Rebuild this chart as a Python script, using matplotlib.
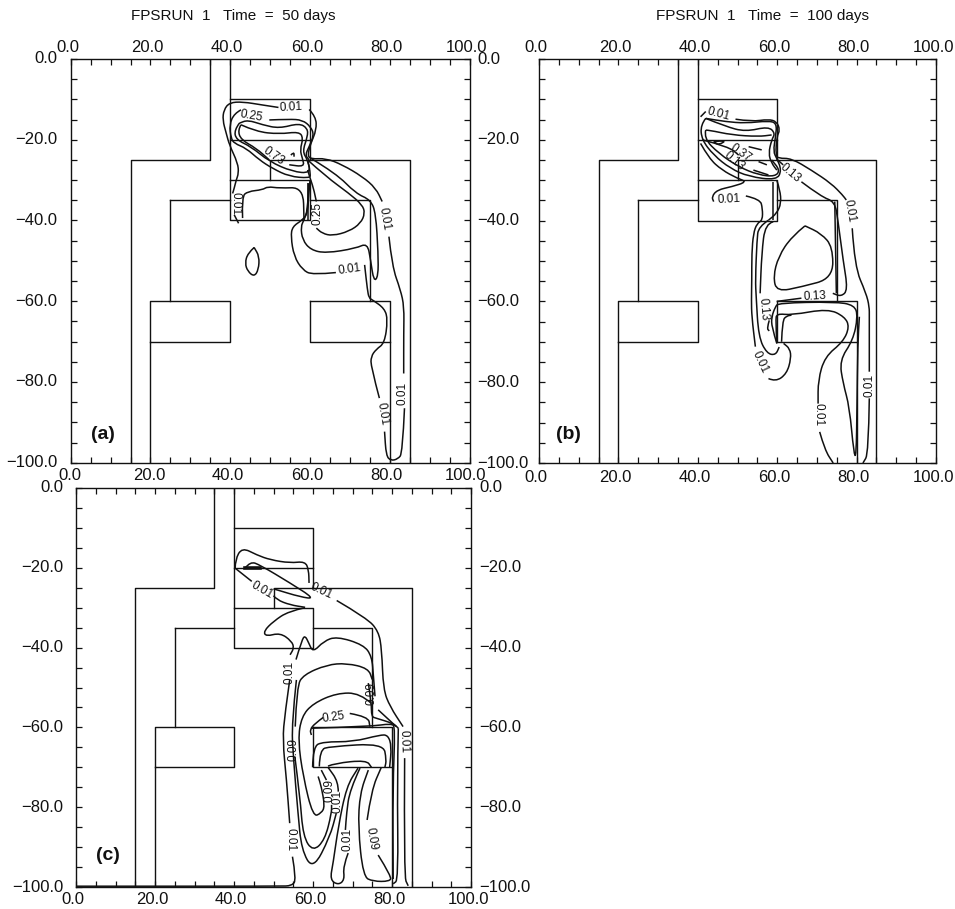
import matplotlib
matplotlib.use('Agg')
import matplotlib.pyplot as plt
from matplotlib.path import Path
from matplotlib.patches import PathPatch

W = 955
H = 909
plt.rcParams['font.family'] = ['Liberation Sans', 'DejaVu Sans']

x_ticks = [0, 20, 40, 60, 80, 100]
y_ticks = [0, -20, -40, -60, -80, -100]
minor_step = 5

# reactor outline, same in all three panels
outline = [
    [(35, 0), (35, -25), (15, -25), (15, -100)],
    [(40, 0), (40, -40), (60, -40), (60, -30), (40, -30)],
    [(40, -10), (60, -10), (60, -25), (85, -25), (85, -100)],
    [(40, -20), (60, -20)],
    [(50, -30), (50, -25), (60, -25)],
    [(25, -35), (40, -35)],
    [(25, -35), (25, -60)],
    [(20, -100), (20, -60), (40, -60), (40, -70), (20, -70)],
    [(60, -35), (75, -35), (75, -60)],
    [(60, -60), (80, -60), (80, -100)],
    [(60, -60), (60, -70), (80, -70)],
]

# panel (a) contours
a_lines = [
    [(52.1, -12.0), (48.1, -11.4), (43.1, -10.6), (39.8, -10.8), (38.4, -12.6), (38.1, -15.1), (39.0, -18.4),
     (39.8, -21.3), (41.9, -25.8), (42.1, -28.3), (41.5, -30.0), (41.0, -32.0), (40.6, -33.3)],
    [(41.0, -38.6), (42.1, -40.7)],
    [(59.8, -12.5), (61.5, -14.3), (61.6, -17.6), (60.2, -20.9), (59.4, -23.8), (60.2, -24.8), (64.0, -24.6),
     (68.1, -26.2), (73.1, -29.1), (76.5, -32.0), (78.1, -35.3)],
    [(79.8, -44.0), (80.6, -51.4), (82.7, -57.2), (83.6, -61.3), (83.5, -68.0), (83.5, -77.9)],
    [(83.7, -86.5), (83.2, -97.7), (82.0, -99.1), (80.3, -99.5), (79.1, -98.3), (78.7, -92.3)],
    [(77.4, -84.0), (75.3, -76.2), (75.3, -73.7), (76.6, -71.9), (78.7, -70.4), (79.5, -64.6), (78.7, -61.8),
     (75.7, -59.7), (74.8, -59.2), (74.4, -57.2), (73.7, -51.0)],
    [(66.5, -52.9), (60.6, -53.5), (58.1, -52.2), (56.0, -48.9), (55.2, -44.0), (55.6, -41.5), (58.1, -39.9),
     (59.4, -38.2), (59.8, -32.4), (60.0, -30.0)],
    [(60.2, -24.6), (66.5, -28.3), (71.5, -33.3), (75.2, -34.9), (76.5, -38.2), (77.1, -48.1), (77.1, -53.9),
     (76.0, -55.1), (75.2, -49.8), (74.4, -45.6), (71.5, -46.9), (64.0, -48.1), (60.2, -47.3), (58.1, -44.8),
     (57.7, -41.5), (58.5, -39.9), (59.4, -37.4), (59.6, -30.8)],
    [(59.4, -25.0), (64.0, -29.1), (69.8, -33.3), (73.1, -36.1), (73.8, -38.2), (72.7, -40.7), (69.8, -42.7),
     (65.6, -43.8), (63.1, -43.2), (61.6, -41.9)],
    [(61.6, -35.3), (61.0, -32.4), (60.2, -30.0), (59.4, -27.5)],
    [(49.8, -15.1), (54.8, -14.9), (58.1, -15.1), (60.2, -16.8), (61.0, -18.8), (59.8, -21.7), (58.8, -23.8),
     (59.8, -25.0)],
    [(42.7, -12.6), (41.0, -13.5), (39.8, -16.3), (40.2, -19.6), (41.0, -20.9), (44.0, -22.1), (47.3, -25.0),
     (50.6, -27.1), (54.8, -29.1), (59.8, -29.5), (60.2, -28.7), (59.4, -25.0)],
    [(42.3, -15.9), (41.0, -17.6), (41.5, -20.0), (45.2, -21.7), (49.8, -25.4), (55.6, -27.9), (60.2, -28.3),
     (59.4, -25.0), (58.1, -22.9), (59.4, -19.2), (59.4, -17.2), (57.3, -15.9), (52.3, -17.2), (48.1, -16.3),
     (44.4, -15.1), (42.3, -15.9)],
    [(42.7, -16.3), (46.5, -18.0), (52.3, -18.6), (57.3, -18.0), (58.3, -19.6), (57.5, -22.5), (58.1, -24.6),
     (58.6, -26.7), (54.8, -26.2)],
    [(42.7, -16.3), (41.9, -17.6), (42.7, -20.0), (46.5, -22.1), (49.8, -25.0)],
    [(55.2, -23.8), (56.0, -23.0), (56.0, -24.2)],
    [(43.1, -39.4), (42.9, -34.1), (44.4, -32.8), (48.1, -32.4), (49.4, -31.6), (52.3, -32.0), (58.3, -31.8),
     (58.5, -39.9)],
    [(59.4, -30.8), (59.4, -39.9)],
    [(46.0, -46.7), (44.4, -48.1), (43.7, -50.6), (44.4, -52.6), (46.0, -53.9), (47.1, -52.2), (47.3, -48.9),
     (46.0, -46.7)],
]
a_labels = [
    (55.2, -12.0, '0.01', 3), (45.2, -14.1, '0.25', -10), (51.0, -24.0, '0.73', -35), (41.2, -35.7, '0.01', -90),
    (61.9, -38.2, '0.25', 90), (78.8, -39.5, '0.01', -80), (69.8, -52.0, '0.01', 8), (78.1, -87.8, '0.01', -80),
    (83.2, -82.8, '0.01', 90),
]

# panel (b) contours
b_lines = [
    [(42.0, -13.0), (40.7, -14.3)],
    [(49.5, -14.9), (53.6, -15.5), (57.8, -14.9), (59.9, -15.5), (60.7, -17.6), (59.9, -19.2), (59.6, -23.8),
     (60.3, -24.6), (63.6, -24.6), (68.6, -27.5), (73.6, -30.8), (76.5, -33.7), (77.4, -34.9)],
    [(78.9, -41.9), (79.5, -51.4), (82.4, -58.0), (83.2, -61.3), (83.2, -63.8), (83.2, -77.4)],
    [(83.2, -84.0), (83.0, -97.7), (81.6, -100.0)],
    [(40.7, -20.9), (42.8, -24.6), (46.1, -27.5), (49.9, -29.5), (52.4, -30.4), (48.6, -31.6), (44.9, -32.4),
     (43.5, -34.1), (44.0, -35.3)],
    [(52.1, -33.9), (55.7, -34.7), (56.3, -37.0), (56.3, -39.9), (54.9, -40.7), (54.0, -43.2), (53.6, -48.1),
     (53.6, -54.7), (53.5, -59.7), (53.6, -63.8), (54.5, -71.2)],
    [(57.8, -79.1), (59.6, -79.9), (62.4, -77.9), (63.5, -74.1), (63.2, -71.7), (61.6, -70.4)],
    [(57.8, -39.9), (55.3, -41.5), (54.9, -44.8), (54.5, -54.7), (54.7, -58.8), (55.3, -68.8), (57.4, -72.9),
     (59.6, -73.3), (60.5, -71.3)],
    [(59.0, -40.3), (57.0, -40.7), (56.1, -48.1), (55.7, -58.0)],
    [(58.0, -64.7), (57.4, -66.7), (58.0, -67.3)],
    [(59.0, -30.4), (59.0, -39.9)],
    [(59.9, -30.0), (60.7, -32.4), (61.0, -35.7), (59.9, -38.2), (57.8, -39.9)],
    [(66.1, -30.4), (71.1, -34.1), (74.5, -35.3), (75.3, -39.9), (76.6, -49.8), (77.8, -57.2), (76.1, -58.8),
     (74.0, -58.0)],
    [(59.9, -24.8), (61.5, -26.2)],
    [(74.5, -35.3), (74.9, -58.0)],
    [(67.0, -41.3), (63.6, -44.0), (60.3, -48.9), (59.0, -53.9), (59.9, -57.6), (66.1, -56.4), (74.0, -54.3),
     (74.0, -46.5), (71.1, -43.2), (67.0, -41.3)],
    [(59.9, -60.0), (66.1, -59.2)],
    [(59.9, -70.4), (58.6, -66.3), (58.6, -63.8), (59.5, -61.4), (60.3, -60.4), (74.5, -60.1), (79.5, -60.9),
     (80.3, -63.8), (79.1, -69.6), (75.7, -74.6), (76.6, -80.3), (78.2, -86.1), (79.3, -97.7), (79.9, -98.5),
     (80.1, -86.1), (80.3, -70.4), (80.7, -63.8)],
    [(59.9, -70.4), (59.6, -64.7), (59.9, -63.0), (63.6, -63.4), (72.8, -61.8), (77.0, -63.8), (78.2, -66.3),
     (76.6, -70.0), (72.0, -73.7), (70.3, -79.5), (70.3, -85.3)],
    [(70.7, -92.3), (72.0, -96.8), (74.1, -100.0)],
    [(61.1, -70.0), (61.3, -64.7), (62.4, -63.6), (63.6, -63.4)],
    [(42.0, -14.7), (40.7, -16.3), (41.0, -20.0), (44.0, -23.8), (48.2, -27.1), (52.8, -29.1), (59.9, -30.0),
     (61.1, -27.5), (59.9, -24.6), (59.0, -22.9), (59.6, -19.2), (59.9, -15.9), (57.8, -15.3), (52.0, -15.9),
     (47.0, -15.5), (42.0, -14.7)],
    [(42.0, -14.7), (47.0, -16.7), (52.0, -18.0), (57.8, -16.7), (59.5, -18.4), (58.6, -20.0), (57.8, -23.4),
     (58.6, -25.8), (59.9, -27.5)],
    [(42.0, -17.6), (41.5, -19.6), (45.3, -23.4), (50.3, -26.7), (55.3, -28.7), (59.5, -29.1), (60.7, -27.5),
     (58.6, -25.0)],
    [(42.0, -17.6), (42.8, -17.6), (48.6, -18.8), (55.3, -19.2), (58.6, -18.8)],
    [(44.0, -20.5), (47.4, -20.0), (45.3, -21.3), (44.0, -20.5)],
    [(52.8, -21.7), (56.1, -22.5)],
    [(55.3, -25.4), (57.4, -26.2)],
    [(54.0, -27.5), (57.8, -28.7)],
    [(41.1, -20.0), (47.8, -21.7), (50.3, -23.8)],
]
b_labels = [
    (45.3, -13.7, '0.01', -15), (50.7, -23.2, '0.37', -35), (49.3, -25.2, '0.13', -40), (63.2, -28.3, '0.13', -40),
    (78.2, -37.6, '0.01', -80), (47.8, -34.7, '0.01', 3), (69.6, -58.8, '0.13', 3), (56.5, -62.0, '0.13', -85),
    (55.7, -75.0, '0.01', -65), (83.2, -80.7, '0.01', 90), (70.3, -88.0, '0.01', -90),
]

# panel (c) contours
c_lines = [
    [(40.3, -20.1), (40.3, -18.0), (42.0, -14.9), (45.8, -16.8), (49.2, -18.0), (54.2, -18.8), (58.0, -18.4),
     (58.9, -20.5), (59.0, -23.8)],
    [(66.0, -28.2), (73.6, -32.6), (76.6, -35.9), (77.4, -40.5), (77.8, -50.5), (79.5, -54.8), (82.8, -59.8)],
    [(83.2, -67.7), (83.0, -97.4), (84.1, -99.7)],
    [(40.3, -20.1), (44.5, -23.4)],
    [(50.0, -27.0), (50.8, -28.0), (54.2, -29.3), (58.0, -29.9)],
    [(42.8, -20.1), (44.1, -18.4), (46.6, -19.3), (54.2, -23.8), (60.5, -27.8), (56.8, -27.3), (50.8, -25.5),
     (50.0, -25.3)],
    [(58.0, -30.0), (53.8, -30.9), (50.0, -33.4), (47.5, -35.9), (48.1, -37.2), (51.7, -36.3), (54.6, -38.4),
     (55.2, -40.1), (54.2, -41.8)],
    [(55.7, -43.0), (57.2, -38.0), (58.0, -37.0), (58.9, -38.8), (60.0, -41.2), (62.7, -38.4), (66.0, -37.2),
     (72.8, -39.3), (74.9, -42.2), (75.3, -47.2), (75.7, -52.2)],
    [(55.5, -59.8), (55.9, -49.7), (57.6, -46.8), (63.5, -44.3), (68.5, -43.9), (74.0, -45.2), (75.0, -48.0)],
    [(74.8, -54.0), (71.9, -51.4), (66.0, -51.4), (60.0, -54.0), (57.1, -57.3), (56.2, -63.1), (57.5, -72.3),
     (60.0, -82.4), (62.1, -81.5), (63.0, -79.8), (62.1, -74.8), (61.3, -72.3)],
    [(54.1, -48.1), (52.9, -56.5), (52.3, -63.1), (53.3, -73.2), (54.1, -84.0)],
    [(54.8, -92.4), (55.8, -98.2), (54.6, -99.7), (51.6, -99.8), (0.0, -99.8)],
    [(55.8, -48.1), (54.6, -59.0), (55.0, -67.3), (56.2, -81.5), (57.1, -90.7), (60.0, -95.7), (64.3, -87.4),
     (65.9, -81.5)],
    [(66.4, -76.1), (66.4, -73.6), (63.8, -70.0)],
    [(55.4, -67.3), (56.7, -77.3), (57.5, -87.4), (60.0, -91.1), (63.0, -88.2), (64.7, -81.5), (64.7, -79.4)],
    [(63.4, -73.2), (62.1, -70.7)],
    [(62.6, -57.5), (60.5, -59.0), (59.2, -60.6), (59.6, -61.9)],
    [(69.3, -56.5), (74.0, -57.3), (74.4, -59.8)],
    [(59.6, -60.2), (74.4, -59.8), (79.9, -59.0), (80.8, -60.0), (80.2, -75.0), (80.3, -98.0)],
    [(81.6, -60.2), (81.3, -73.2), (81.6, -98.2), (80.3, -99.2)],
    [(74.0, -48.9), (74.8, -54.0), (74.8, -57.3), (76.0, -57.7), (80.3, -59.0), (81.6, -60.2)],
    [(76.5, -55.6), (81.1, -59.8)],
    [(59.9, -70.0), (60.0, -64.8), (62.6, -63.6), (70.2, -63.6), (76.9, -61.9), (79.0, -61.9), (79.9, -64.8),
     (79.4, -70.0)],
    [(61.6, -69.8), (61.7, -65.6), (64.3, -64.8), (77.8, -64.0), (78.6, -68.2), (78.2, -70.0)],
    [(63.8, -69.7), (65.5, -69.0), (73.5, -68.2), (74.8, -70.0)],
    [(71.9, -70.2), (69.3, -75.7), (68.5, -81.5), (68.2, -85.7)],
    [(68.9, -91.5), (67.6, -94.9), (68.0, -98.2), (66.4, -99.5), (64.3, -98.2), (65.1, -94.0), (66.4, -84.9),
     (68.5, -74.8), (71.4, -70.2)],
    [(76.5, -92.0), (79.9, -97.4), (79.4, -98.6), (75.2, -98.6), (72.7, -97.4), (71.4, -84.9), (71.9, -76.5),
     (74.0, -70.7)],
    [(73.7, -83.2), (74.8, -75.7), (77.3, -70.0)],
]
c_thick = [(42.8, -20.1), (46.6, -20.1)]
c_labels = [
    (47.0, -25.5, '0.01', -30), (62.0, -25.9, '0.01', -25), (54.0, -46.3, '0.01', 90), (65.1, -57.5, '0.25', 8),
    (74.8, -51.4, '0.09', 90), (55.1, -65.6, '0.09', 90), (64.1, -75.7, '0.09', 90), (66.1, -78.6, '0.01', 90),
    (83.0, -63.6, '0.01', -88), (54.3, -88.2, '0.01', -90), (68.7, -88.2, '0.01', 90), (74.8, -87.8, '0.09', -80),
]

titles = ['FPSRUN  1   Time  =  50 days', 'FPSRUN  1   Time  =  100 days']
ink = '#111111'


def make_axes(fig, left, right, top, bottom):
    ax = fig.add_axes([left / W, 1 - bottom / H, (right - left) / W, (bottom - top) / H])
    ax.set_xlim(0, 100)
    ax.set_ylim(-100, 0)
    ax.set_xticks(range(0, 101, minor_step))
    ax.set_yticks(range(-100, 1, minor_step))
    ax.tick_params(direction='in', length=4.5, width=0.9, top=True, right=True, color=ink,
                   labelbottom=False, labelleft=False)
    for s in ax.spines.values():
        s.set_linewidth(1.0)
        s.set_color(ink)
    return ax


def rounded(pts):
    # the read-off points act as control points, so the pen runs round them as in the original
    verts = [pts[0]]
    codes = [Path.MOVETO]
    for i in range(1, len(pts) - 1):
        mid = ((pts[i][0] + pts[i + 1][0]) / 2, (pts[i][1] + pts[i + 1][1]) / 2)
        verts += [pts[i], mid]
        codes += [Path.CURVE3, Path.CURVE3]
    verts.append(pts[-1])
    codes.append(Path.LINETO)
    return Path(verts, codes)


def draw(ax, lines, labels):
    for pts in outline:
        ax.plot([p[0] for p in pts], [p[1] for p in pts], color=ink, lw=1.0)
    for pts in lines:
        ax.add_patch(PathPatch(rounded(pts), fill=False, edgecolor=ink, lw=1.1))
    for x, y, s, rot in labels:
        ax.text(x, y, s, fontsize=8.5, rotation=rot, rotation_mode='anchor', ha='center', va='center', color=ink)


def xlabels(ax, frac, dy, dx=-3):
    for v in x_ticks:
        ax.annotate('%.1f' % v, xy=(v, frac), xycoords=('data', 'axes fraction'),
                    xytext=(dx * 0.72, dy * 0.72), textcoords='offset points', ha='center', va='center',
                    fontsize=12, color=ink, annotation_clip=False)


def ylabels(ax, xfrac, dx, ha):
    for v in y_ticks:
        txt = ('%.1f' % v).replace('-', '\u2212')
        ax.annotate(txt, xy=(xfrac, v), xycoords=('axes fraction', 'data'),
                    xytext=(dx * 0.72, 0), textcoords='offset points', ha=ha, va='center',
                    fontsize=12, color=ink, annotation_clip=False)


fig = plt.figure(figsize=(W / 100, H / 100), dpi=100)

ax_a = make_axes(fig, 70.7, 469.5, 59, 462.7)
draw(ax_a, a_lines, a_labels)
xlabels(ax_a, 1, 11)
ylabels(ax_a, 0, -13, 'right')
ax_a.text(0.05, 0.07, '(a)', transform=ax_a.transAxes, fontsize=14, fontweight='bold', va='center', color=ink)

ax_b = make_axes(fig, 539, 936, 59, 463)
draw(ax_b, b_lines, b_labels)
xlabels(ax_b, 1, 11)
xlabels(ax_b, 0, -14)
ylabels(ax_b, 0, -62, 'left')
ax_b.text(0.042, 0.07, '(b)', transform=ax_b.transAxes, fontsize=14, fontweight='bold', va='center', color=ink)

ax_c = make_axes(fig, 76, 471, 488, 887)
draw(ax_c, c_lines, c_labels)
ax_c.plot([c_thick[0][0], c_thick[1][0]], [c_thick[0][1], c_thick[1][1]], color=ink, lw=2.6)
xlabels(ax_c, 1, 13, -6)
xlabels(ax_c, 0, -13)
ylabels(ax_c, 0, -13, 'right')
ylabels(ax_c, 1, 8, 'left')
ax_c.text(0.05, 0.078, '(c)', transform=ax_c.transAxes, fontsize=14, fontweight='bold', va='center', color=ink)

fig.text(131 / W, 1 - 16 / H, titles[0], fontsize=11, va='center', ha='left', color=ink)
fig.text(656 / W, 1 - 16 / H, titles[1], fontsize=11, va='center', ha='left', color=ink)

fig.savefig('out.png', dpi=100)
